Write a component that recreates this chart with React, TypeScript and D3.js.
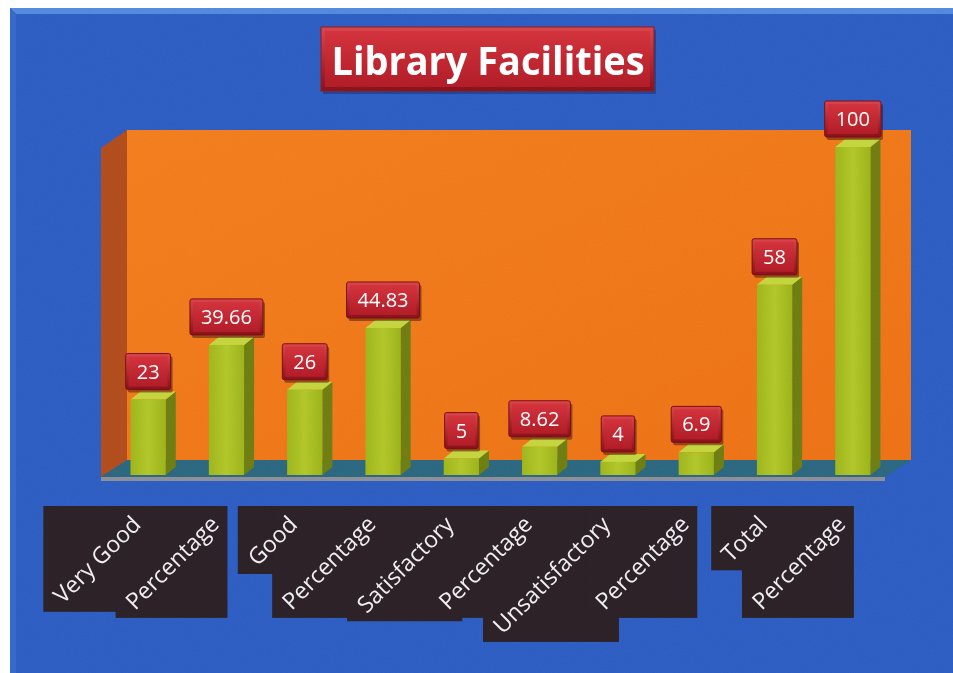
import { useEffect, useRef } from "react";
import * as d3 from "d3";

const title = "Library Facilities";
const categories = [
  "Very Good",
  "Percentage",
  "Good",
  "Percentage",
  "Satisfactory",
  "Percentage",
  "Unsatisfactory",
  "Percentage",
  "Total",
  "Percentage",
];
const values = [23, 39.66, 26, 44.83, 5, 8.62, 4, 6.9, 58, 100];
const yDomain = [0, 100];

const W = 953;
const H = 673;

export default function App() {
  const svgRef = useRef<SVGSVGElement>(null);

  useEffect(() => {
    const svg = d3.select(svgRef.current);
    svg.selectAll("*").remove();
    const defs = svg.append("defs");

    // plot geometry (pseudo 3d box like the office chart)
    const wall = { left: 127, right: 911, top: 130, bottom: 460 };
    const depth = { dx: -26, dy: 17 };
    const face = { dx: 10, dy: -8 };

    const x = d3
      .scaleBand<number>()
      .domain(d3.range(categories.length))
      .range([109, 892])
      .paddingInner(0.55)
      .paddingOuter(0.275);
    const y = d3.scaleLinear().domain(yDomain).range([475, 147]);

    // gradients
    const redOuter = defs.append("linearGradient").attr("id", "redOuter").attr("x1", 0).attr("y1", 0).attr("x2", 0).attr("y2", 1);
    redOuter.append("stop").attr("offset", "0%").attr("stop-color", "#d9444b");
    redOuter.append("stop").attr("offset", "100%").attr("stop-color", "#86101a");
    const redInner = defs.append("linearGradient").attr("id", "redInner").attr("x1", 0).attr("y1", 0).attr("x2", 0).attr("y2", 1);
    redInner.append("stop").attr("offset", "0%").attr("stop-color", "#d2323b");
    redInner.append("stop").attr("offset", "100%").attr("stop-color", "#b01c27");

    const barGrad = defs.append("linearGradient").attr("id", "barFront").attr("x1", 0).attr("y1", 0).attr("x2", 1).attr("y2", 0);
    barGrad.append("stop").attr("offset", "0%").attr("stop-color", "#9cb41c");
    barGrad.append("stop").attr("offset", "50%").attr("stop-color", "#b0c62a");
    barGrad.append("stop").attr("offset", "100%").attr("stop-color", "#9ab21a");

    const wallGrad = defs.append("linearGradient").attr("id", "wall").attr("x1", 0).attr("y1", 0).attr("x2", 1).attr("y2", 1);
    wallGrad.append("stop").attr("offset", "0%").attr("stop-color", "#f27c1e");
    wallGrad.append("stop").attr("offset", "100%").attr("stop-color", "#ec7016");

    const noise = defs.append("filter").attr("id", "grain").attr("x", 0).attr("y", 0).attr("width", "100%").attr("height", "100%");
    noise.append("feTurbulence").attr("type", "fractalNoise").attr("baseFrequency", 0.85).attr("numOctaves", 2).attr("seed", 4);
    noise.append("feColorMatrix").attr("type", "saturate").attr("values", 0);

    // slide background
    svg.append("rect").attr("width", W).attr("height", H).attr("fill", "#ffffff");
    svg.append("rect").attr("x", 10).attr("y", 8).attr("width", W - 10).attr("height", H - 8).attr("fill", "#2d5cc1");
    svg.append("polygon").attr("points", `10,8 ${W},8 ${W},14 16,14`).attr("fill", "#5288dc");
    svg.append("polygon").attr("points", `10,8 16,14 16,${H} 10,${H}`).attr("fill", "#3567c9");

    // back wall, side wall, floor
    svg
      .append("polygon")
      .attr("points", `${wall.left + depth.dx},${wall.top + 18} ${wall.left},${wall.top} ${wall.left},${wall.bottom} ${wall.left + depth.dx},${wall.bottom + depth.dy}`)
      .attr("fill", "#b04c1d");
    svg
      .append("rect")
      .attr("x", wall.left)
      .attr("y", wall.top)
      .attr("width", wall.right - wall.left)
      .attr("height", wall.bottom - wall.top)
      .attr("fill", "url(#wall)");
    svg
      .append("polygon")
      .attr(
        "points",
        `${wall.left},${wall.bottom} ${wall.right},${wall.bottom} ${wall.right + depth.dx},${wall.bottom + depth.dy} ${wall.left + depth.dx},${wall.bottom + depth.dy}`,
      )
      .attr("fill", "#2c667e");
    svg
      .append("rect")
      .attr("x", wall.left + depth.dx)
      .attr("y", wall.bottom + depth.dy)
      .attr("width", wall.right - wall.left)
      .attr("height", 4)
      .attr("fill", "#8b8d96");

    // bars
    const bars = svg.append("g");
    values.forEach((v, i) => {
      const x0 = x(i) ?? 0;
      const bw = x.bandwidth();
      const y0 = y(v);
      const yb = y(0);
      bars
        .append("polygon")
        .attr("points", `${x0 + bw},${y0} ${x0 + bw + face.dx},${y0 + face.dy} ${x0 + bw + face.dx},${yb + face.dy} ${x0 + bw},${yb}`)
        .attr("fill", "#6c7c12");
      bars
        .append("polygon")
        .attr("points", `${x0},${y0} ${x0 + face.dx},${y0 + face.dy} ${x0 + bw + face.dx},${y0 + face.dy} ${x0 + bw},${y0}`)
        .attr("fill", "#c3d43e");
      bars
        .append("rect")
        .attr("x", x0)
        .attr("y", y0)
        .attr("width", bw)
        .attr("height", yb - y0)
        .attr("fill", "url(#barFront)");
    });

    // value labels
    const labels = svg.append("g").attr("font-family", "'Open Sans', sans-serif").attr("font-size", 20);
    values.forEach((v, i) => {
      const cx = (x(i) ?? 0) + x.bandwidth() / 2;
      const bottom = y(v) + face.dy - 2;
      const bh = 36;
      const g = labels.append("g");
      const t = g
        .append("text")
        .attr("x", cx)
        .attr("y", bottom - bh / 2 + 7)
        .attr("text-anchor", "middle")
        .attr("fill", "#ffffff")
        .text(String(v));
      const tw = (t.node() as SVGTextElement).getComputedTextLength();
      const bw = tw + 22;
      g.insert("rect", "text").attr("x", cx - bw / 2 + 2).attr("y", bottom - bh + 3).attr("width", bw).attr("height", bh).attr("rx", 2).attr("fill", "rgba(40,10,10,0.45)");
      g.insert("rect", "text").attr("x", cx - bw / 2).attr("y", bottom - bh).attr("width", bw).attr("height", bh).attr("rx", 2).attr("fill", "url(#redOuter)").attr("stroke", "#7a0d15").attr("stroke-width", 1);
      g.insert("rect", "text").attr("x", cx - bw / 2 + 3).attr("y", bottom - bh + 3).attr("width", bw - 6).attr("height", bh - 6).attr("fill", "url(#redInner)");
    });

    // category labels (rotated, with dark boxes)
    const boxLayer = svg.append("g");
    const textLayer = svg.append("g").attr("font-family", "'Open Sans', sans-serif").attr("font-size", 23);
    const c45 = Math.SQRT1_2;
    categories.forEach((c, i) => {
      const cx = (x(i) ?? 0) + x.bandwidth() / 2;
      const g = textLayer.append("g");
      const t = g.append("text").attr("text-anchor", "end").attr("transform", "rotate(-45)").attr("fill", "#f1eef2").text(c);
      const bb = (t.node() as SVGTextElement).getBBox();
      const pts = [
        [bb.x, bb.y],
        [bb.x + bb.width, bb.y],
        [bb.x, bb.y + bb.height],
        [bb.x + bb.width, bb.y + bb.height],
      ].map(([px, py]) => [c45 * px + c45 * py, -c45 * px + c45 * py]);
      const minX = d3.min(pts, (p) => p[0]) ?? 0;
      const maxX = d3.max(pts, (p) => p[0]) ?? 0;
      const minY = d3.min(pts, (p) => p[1]) ?? 0;
      const maxY = d3.max(pts, (p) => p[1]) ?? 0;
      const pad = 2;
      const tx = cx + 1 - pad - maxX;
      const ty = 506 + pad - minY;
      g.attr("transform", `translate(${tx},${ty})`);
      boxLayer
        .append("rect")
        .attr("x", minX + tx - pad)
        .attr("y", minY + ty - pad)
        .attr("width", maxX - minX + pad * 2)
        .attr("height", maxY - minY + pad * 2)
        .attr("fill", "#2b2127");
    });

    // title
    const tg = svg.append("g");
    tg.append("rect").attr("x", 323).attr("y", 30).attr("width", 333).attr("height", 64).attr("fill", "rgba(20,20,60,0.35)");
    tg.append("rect").attr("x", 321).attr("y", 27).attr("width", 333).attr("height", 64).attr("fill", "url(#redOuter)").attr("stroke", "#8a1a20");
    tg.append("rect").attr("x", 325).attr("y", 31).attr("width", 325).attr("height", 56).attr("fill", "url(#redInner)");
    tg.append("text")
      .attr("x", 488)
      .attr("y", 75)
      .attr("text-anchor", "middle")
      .attr("font-family", "'Open Sans', sans-serif")
      .attr("font-weight", 700)
      .attr("font-size", 40)
      .attr("textLength", 313)
      .attr("lengthAdjust", "spacingAndGlyphs")
      .attr("fill", "#ffffff")
      .text(title);

    // print grain
    svg
      .append("rect")
      .attr("x", 10)
      .attr("y", 8)
      .attr("width", W - 10)
      .attr("height", H - 8)
      .attr("filter", "url(#grain)")
      .attr("opacity", 0.1)
      .style("mix-blend-mode", "overlay");
  }, []);

  return <svg ref={svgRef} width={W} height={H} style={{ position: "absolute", left: 0, top: 0, display: "block" }} />;
}
